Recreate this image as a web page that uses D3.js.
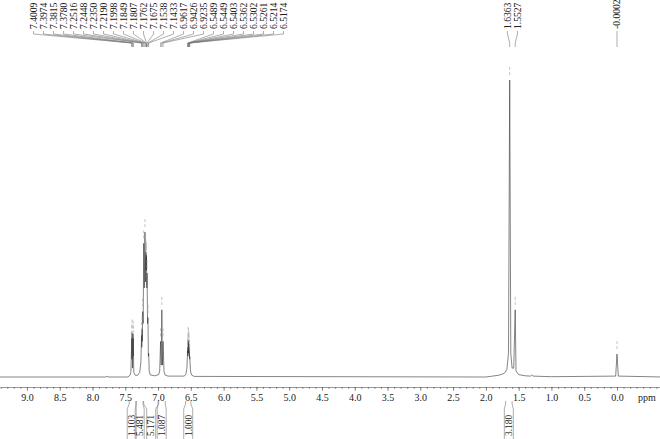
<!DOCTYPE html>
<html><head><meta charset="utf-8">
<script src="https://cdn.jsdelivr.net/npm/d3@7"></script>
<style>body{margin:0;background:#fff}svg{display:block}text{font-family:"Liberation Serif","Times New Roman",serif}</style>
</head><body><svg id="c" width="660" height="439"></svg>
<script>
// spectrum points: [ppm, intensity % of tallest peak]
const spectrum = [
 [9.45,0],[7.80,0],[7.78,0.3],[7.76,0],[7.46,0],[7.43,0.6],[7.415,1.5],
 [7.4009,13],[7.3992,6],[7.3974,15],[7.390,3],[7.3815,14.5],[7.3798,7],[7.3780,13],[7.37,1.5],[7.35,0.6],
 [7.31,0.6],[7.28,1.5],[7.262,5],[7.2516,14],[7.248,10],[7.2448,16],[7.240,12],[7.2350,22],[7.227,18],
 [7.2190,45],[7.21,30],[7.1998,48.8],[7.192,32],[7.1849,42],[7.183,36],[7.1807,40],[7.179,36],[7.1762,41],
 [7.172,30],[7.1675,35],[7.160,18],[7.1538,20],[7.148,7],[7.1433,8],[7.135,2],[7.12,0.7],[7.05,0.4],
 [6.99,0.8],[6.975,2],[6.9617,12],[6.952,4],[6.9426,22.6],[6.933,4],[6.9235,12],[6.91,2],[6.895,0.7],[6.85,0.3],
 [6.60,0.3],[6.575,1],[6.56,3],[6.5489,9],[6.547,7],[6.5449,10],[6.542,8],[6.5403,12.5],[6.538,10],[6.5362,12],
 [6.533,8],[6.5302,11],[6.528,8],[6.5261,10],[6.524,7],[6.5214,8],[6.519,6],[6.5174,7],[6.505,2],[6.49,0.7],[6.45,0.2],
 [2.00,0],[1.90,0.3],[1.80,0.6],[1.72,1.2],[1.68,2.5],[1.655,8],[1.6363,100],[1.62,8],[1.60,3],[1.575,3],
 [1.5527,22.6],[1.54,2],[1.50,0.8],[1.40,0.4],[1.32,0.3],[1.30,0.7],[1.28,0.3],[1.00,0.1],
 [0.02,0.3],[-0.0002,7.7],[-0.02,0.3],[-0.70,0]
];
const labelGroupAromatic = ["7.4009","7.3974","7.3815","7.3780","7.2516","7.2448","7.2350","7.2190","7.1998",
 "7.1849","7.1807","7.1762","7.1675","7.1538","7.1433","6.9617","6.9426","6.9235","6.5489","6.5449","6.5403",
 "6.5362","6.5302","6.5261","6.5214","6.5174"];
const labelGroupAliphatic = ["1.6363","1.5527"];
const labelGroupTMS = ["-0.0002"];
const integralFrom = [7.44, 7.33, 7.22, 7.00, 6.58, 1.70];
const integralTo   = [7.34, 7.23, 6.99, 6.89, 6.50, 1.60];
const integralValues = ["1.103","5.481","5.171","1.087","1.000","3.180"];
const majorTicks = ["9.0","8.5","8.0","7.5","7.0","6.5","6.0","5.5","5.0","4.5","4.0","3.5","3.0","2.5","2.0","1.5","1.0","0.5","0.0"];

const W = 660, H = 439;
const svg = d3.select("#c");
const x = d3.scaleLinear().domain([9.411, -0.656]).range([0, W]);
const y = d3.scaleLinear().domain([0, 100]).range([377, 80]);
const axisY = 387;

// axis
const minor = d3.range(-6, 95).map(d => d / 10);
svg.append("g").attr("transform", `translate(0,${axisY})`)
  .call(d3.axisBottom(x).tickValues(minor).tickSize(2).tickSizeOuter(0).tickFormat(""))
  .call(g => g.selectAll("path,line").attr("stroke", "#555").attr("stroke-width", 0.6));
const ax = svg.append("g").attr("transform", `translate(0,${axisY})`)
  .call(d3.axisBottom(x).tickValues(majorTicks.map(Number)).tickSize(4).tickSizeOuter(0).tickFormat((d, i) => majorTicks[i]));
ax.select(".domain").remove();
ax.selectAll("line").attr("stroke", "#555").attr("stroke-width", 0.6);
ax.selectAll("text").attr("font-size", 10).attr("fill", "#222").attr("font-family", "Liberation Serif, serif");
svg.append("text").attr("x", 647).attr("y", axisY + 14).attr("text-anchor", "middle")
  .attr("font-size", 10).attr("fill", "#222").text("ppm");

// spectrum
svg.append("path").datum(spectrum)
  .attr("d", d3.line().x(d => x(d[0])).y(d => y(d[1])))
  .attr("fill", "none").attr("stroke", "#333").attr("stroke-width", 0.6);

// peak labels
function heightAt(p) {
  let best = spectrum[0];
  spectrum.forEach(d => { if (Math.abs(d[0] - p) < Math.abs(best[0] - p)) best = d; });
  return best[1];
}
function drawGroup(labels) {
  const px = labels.map(l => x(+l));
  const mean = d3.mean(px);
  const step = 10;
  const start = mean - step * (labels.length - 1) / 2;
  labels.forEach((l, i) => {
    const lx = start + i * step, p = px[i];
    svg.append("text").attr("transform", `translate(${lx},29) rotate(-90)`)
      .attr("dy", "0.35em").attr("font-size", 9.6).attr("fill", "#222").text(l);
    svg.append("path").attr("d", `M${lx},31L${lx},34L${p},43L${p},47`)
      .attr("fill", "none").attr("stroke", "#777").attr("stroke-width", 0.6);
    const t = y(heightAt(+l));
    svg.append("line").attr("x1", p).attr("x2", p).attr("y1", t - 13).attr("y2", t - 3)
      .attr("stroke", "#aaa").attr("stroke-width", 0.7).attr("stroke-dasharray", "3,2");
  });
}
drawGroup(labelGroupAromatic);
drawGroup(labelGroupAliphatic);
drawGroup(labelGroupTMS);

// integrals
const boxes = integralValues.map((v, i) => {
  const a = x(integralFrom[i]), b = x(integralTo[i]);
  return {v, a, b, c: (a + b) / 2};
});
for (let i = boxes.length - 2; i >= 0; i--) {
  if (boxes[i].c > boxes[i + 1].c - 8) boxes[i].c = boxes[i + 1].c - 8;
}
boxes.forEach(bx => {
  const l = bx.c - 4.5, r = bx.c + 4.5;
  svg.append("path")
    .attr("d", `M${bx.a},401L${bx.a},404L${l},409L${l},439M${bx.b},401L${bx.b},404L${r},409L${r},439`)
    .attr("fill", "none").attr("stroke", "#777").attr("stroke-width", 0.6);
  svg.append("text").attr("transform", `translate(${bx.c},436) rotate(-90)`)
    .attr("dy", "0.35em").attr("font-size", 9.4).attr("fill", "#222").text(bx.v);
});
</script></body></html>
